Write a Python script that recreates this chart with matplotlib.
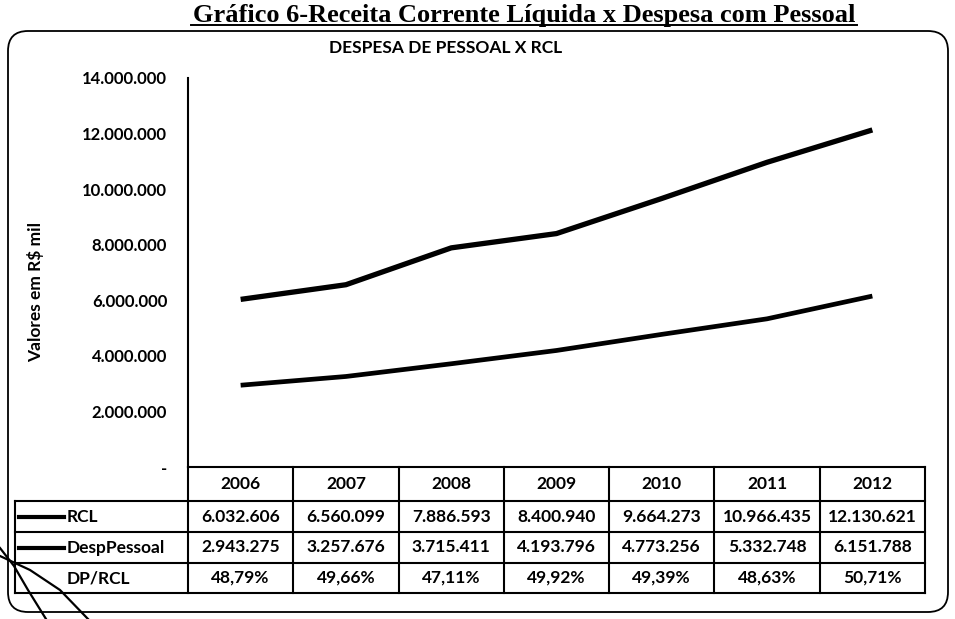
import matplotlib
matplotlib.use("Agg")
import matplotlib.pyplot as plt
from matplotlib.patches import FancyBboxPatch
from matplotlib.ticker import FuncFormatter, MultipleLocator

anos = ["2006", "2007", "2008", "2009", "2010", "2011", "2012"]
rcl = [6032606, 6560099, 7886593, 8400940, 9664273, 10966435, 12130621]
desp_pessoal = [2943275, 3257676, 3715411, 4193796, 4773256, 5332748, 6151788]
dp_rcl = ["48,79%", "49,66%", "47,11%", "49,92%", "49,39%", "48,63%", "50,71%"]
series_names = ["RCL", "DespPessoal", "DP/RCL"]

W, H = 955, 619
plt.rcParams['font.family'] = ['Lato', 'DejaVu Sans']
plt.rcParams['font.weight'] = 'bold'


def br(v):
    return f"{v:,.0f}".replace(",", ".")


fig = plt.figure(figsize=(W / 100, H / 100), dpi=100)

# plot area, in pixel terms of the picture
x0, x1 = 188, 925
y_top, y_zero = 78, 467
ax = fig.add_axes([x0 / W, 1 - y_zero / H, (x1 - x0) / W, (y_zero - y_top) / H])
xs = list(range(len(anos)))
ax.plot(xs, rcl, color='black', lw=3.8, solid_capstyle='butt')
ax.plot(xs, desp_pessoal, color='black', lw=3.4, solid_capstyle='butt')
ax.set_xlim(-0.5, len(anos) - 0.5)
ax.set_ylim(0, 14000000)
ax.yaxis.set_major_locator(MultipleLocator(2000000))
ax.yaxis.set_major_formatter(FuncFormatter(lambda v, p: "-" if v == 0 else br(v)))
ax.tick_params(axis='y', length=0, pad=15, labelsize=12)
ax.set_xticks([])
for s in ['top', 'right', 'bottom']:
    ax.spines[s].set_visible(False)
ax.spines['left'].set_linewidth(1.5)
ax.patch.set_alpha(0)

# overlay in pixel coordinates for table, frame and titles
ov = fig.add_axes([0, 0, 1, 1])
ov.set_xlim(0, W)
ov.set_ylim(H, 0)
ov.axis('off')
ov.patch.set_alpha(0)

ov.add_patch(FancyBboxPatch((8, 31), 940, 581, boxstyle="round,pad=0,rounding_size=20",
                            fill=False, ec='black', lw=1.3))

# page caption above the chart
ov.text(524, 22, "Gráfico 6-Receita Corrente Líquida x Despesa com Pessoal",
        family='Liberation Serif', fontsize=19, weight='bold', ha='center', va='baseline')
ov.plot([191, 857], [25, 25], color='black', lw=1.4)

ov.text(446, 48, "DESPESA DE PESSOAL X RCL", fontsize=12.5, ha='center', va='center')
ov.text(36, 292, "Valores em R$ mil", fontsize=12.5, rotation=90, ha='center', va='center')

# hand drawn marks in the lower left corner of the scan
ov.plot([0, 14, 28, 46], [548, 566, 590, 619], color='black', lw=1.6)
ov.plot([0, 30, 60, 88], [556, 570, 590, 619], color='black', lw=1.6)

# data table
ncol = len(anos)
cw = (x1 - x0) / ncol
col_edges = [x0 + i * cw for i in range(ncol + 1)]
rows = [467, 501, 532, 563, 593]
lx = 15
lwt = 1.5
for i, y in enumerate(rows):
    left = x0 if i == 0 else lx
    ov.plot([left, x1], [y, y], color='black', lw=lwt)
ov.plot([lx, lx], [rows[1], rows[-1]], color='black', lw=lwt)
for x in col_edges:
    ov.plot([x, x], [rows[0], rows[-1]], color='black', lw=lwt)

table_rows = [anos, [br(v) for v in rcl], [br(v) for v in desp_pessoal], dp_rcl]
for r, vals in enumerate(table_rows):
    yc = (rows[r] + rows[r + 1]) / 2
    for c, txt in enumerate(vals):
        ov.text((col_edges[c] + col_edges[c + 1]) / 2, yc, txt, fontsize=12.5,
                ha='center', va='center')

for r, name in enumerate(series_names):
    yc = (rows[r + 1] + rows[r + 2]) / 2
    if r < 2:
        ov.plot([19, 64], [yc, yc], color='black', lw=3)
    ov.text(67, yc, name, fontsize=12.5, ha='left', va='center')

fig.savefig("out.png", dpi=100)
